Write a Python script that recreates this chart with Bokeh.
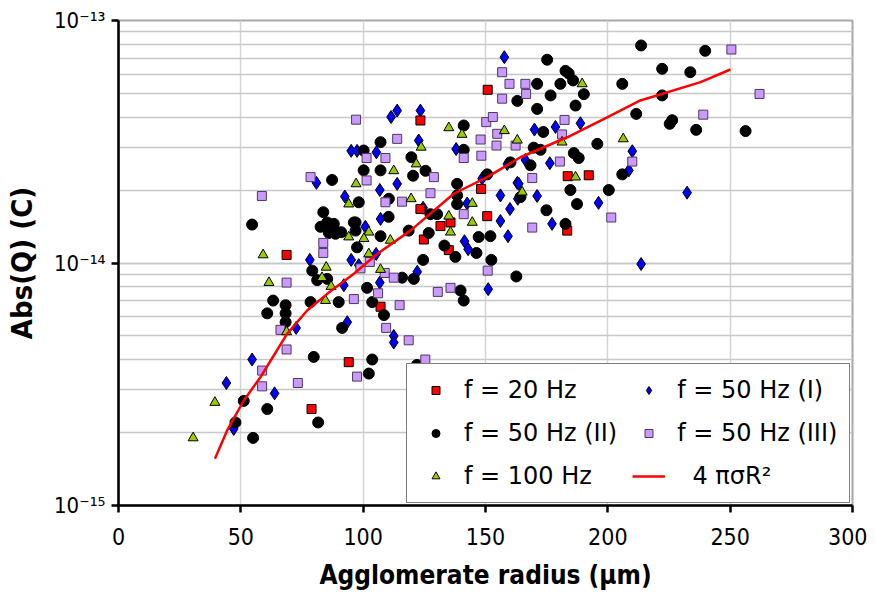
from bokeh.plotting import figure
from bokeh.models import (ColumnDataSource, Legend, LegendItem, LogTicker,
                          FixedTicker, CustomJSTickFormatter)
from bokeh.embed import file_html
from bokeh.resources import INLINE

# Agglomerate radius (um) and |Q| in fC (1e-15 C)
red_r = [68.7, 123.4, 150.9, 148.2, 123.4, 150.7, 131.6, 135.7, 183.6, 192.2,
         183.4, 135.0, 124.8, 107.1, 94.1, 78.9]
red_q = [10.8, 38.7, 51.8, 20.2, 16.7, 15.6, 14.2, 14.7, 22.8, 23.0,
         13.6, 11.3, 12.5, 6.6, 3.9, 2.5]

blue_r = [157.7, 95.1, 97.5, 80.9, 92.5, 78.2, 95.1, 111.4, 113.9, 123.4,
          122.7, 105.4, 113.9, 148.6, 106.8, 124.5, 142.5, 100.9, 160.0, 156.1,
          163.0, 156.1, 170.0, 178.6, 188.8, 210.0, 208.6, 176.3, 166.3, 163.6,
          171.1, 232.4, 196.2, 177.2, 213.6, 159.2, 151.1, 141.4, 142.9, 122.1,
          106.8, 112.5, 112.5, 93.5, 72.6, 54.6, 44.1, 63.8, 92.1, 138.0,
          158.9, 163.2, 105.3, 98.2, 107.1, 47.1]
blue_q = [70.6, 29.0, 29.0, 21.4, 18.8, 10.3, 10.3, 40.0, 42.5, 42.5,
          32.0, 28.6, 21.2, 22.3, 20.0, 16.9, 17.6, 14.1, 16.7, 19.0,
          21.4, 14.9, 35.5, 36.4, 37.7, 28.9, 24.1, 25.8, 26.6, 21.2,
          18.9, 19.5, 17.7, 14.5, 9.9, 12.9, 7.8, 12.3, 11.4, 9.2,
          8.3, 5.0, 4.7, 5.7, 5.4, 4.0, 3.2, 2.9, 8.1, 29.5,
          25.6, 18.4, 10.9, 9.8, 15.2, 2.07]

black_r = [213.6, 239.8, 175.2, 182.7, 184.0, 222.2, 233.7, 171.1, 180.6, 185.8,
           205.9, 163.0, 176.6, 190.2, 171.1, 186.8, 222.2, 211.6, 226.3, 225.3,
           236.1, 256.3, 173.6, 195.7, 169.7, 172.5, 205.9, 186.1, 188.1, 168.4,
           164.3, 184.7, 200.4, 187.4, 174.9, 182.7, 162.6, 160.2,
           87.3, 83.7, 54.6, 88.0, 86.0, 91.0, 96.2, 141.1, 107.1, 119.7,
           141.1, 100.2, 100.2, 107.1, 120.4, 125.5, 138.4, 150.7, 138.4, 138.4,
           98.2, 110.5, 130.2, 110.4, 96.9, 127.5, 152.0, 152.4, 147.2, 146.3,
           133.2, 126.8, 118.6, 124.5, 120.7, 115.9, 141.1, 139.8, 137.7, 107.1,
           82.6, 85.3, 88.7, 96.9, 97.5,
           103.7, 101.6, 108.5, 91.4, 90.0, 78.5, 81.2, 85.3, 79.2, 63.2,
           60.8, 68.3, 68.3, 68.3, 79.8, 51.2, 47.8, 55.0, 60.8, 81.6,
           102.3, 103.7, 122.0]
black_q = [78.9, 75.0, 68.9, 62.0, 60.5, 63.2, 61.2, 54.8, 54.8, 56.6,
           54.8, 46.6, 49.1, 49.7, 43.2, 44.6, 49.1, 41.2, 38.8, 37.5,
           35.4, 35.0, 34.7, 31.0, 29.9, 29.3, 23.2, 28.4, 27.1, 25.3,
           18.7, 20.0, 20.0, 17.5, 16.5, 14.5, 8.8, 26.0,
           22.0, 16.2, 14.4, 14.5, 13.3, 13.4, 14.7, 36.9, 31.5, 27.3,
           29.3, 29.1, 24.1, 24.1, 22.9, 24.0, 21.2, 23.2, 19.0, 17.5,
           17.8, 18.4, 15.9, 15.5, 14.7, 15.9, 12.9, 10.3, 12.8, 11.0,
           11.8, 13.3, 13.6, 10.3, 8.6, 8.7, 7.0, 7.7, 10.6, 12.9,
           14.1, 14.7, 13.2, 13.6, 11.6,
           6.9, 7.9, 6.1, 5.4, 6.9, 6.9, 8.5, 8.6, 9.3, 7.0,
           6.2, 6.7, 6.2, 5.7, 4.1, 2.7, 2.2, 1.9, 2.5, 2.2,
           3.5, 4.0, 3.8]

lav_r = [97.1, 78.5, 58.6, 83.7, 83.7, 156.8, 159.8, 166.3, 156.8, 166.6,
         150.3, 153.0, 154.8, 148.0, 154.5, 162.3, 113.9, 101.4, 109.1, 141.1,
         148.3, 128.9, 101.4, 127.5, 109.1, 115.9, 141.1, 182.3, 181.3, 180.4,
         169.1, 210.0, 201.4, 169.1, 250.5, 262.0, 239.0, 150.9, 135.7, 130.5,
         112.5, 108.8, 106.1, 114.9, 109.4, 118.6, 125.4, 96.2, 98.9, 102.7,
         68.7, 66.2, 68.7, 58.7, 58.7, 73.3, 97.5]
lav_q = [39.0, 22.6, 18.9, 12.1, 11.0, 61.2, 54.8, 54.8, 47.6, 49.8,
         38.1, 40.0, 34.1, 32.3, 30.5, 30.5, 32.5, 27.1, 27.1, 27.1,
         27.7, 22.6, 21.9, 19.4, 17.8, 17.9, 15.9, 38.9, 33.9, 26.2,
         22.4, 26.2, 15.4, 14.0, 75.9, 49.8, 40.9, 9.3, 7.9, 7.6,
         8.7, 9.1, 7.5, 6.7, 5.4, 4.8, 4.0, 7.1, 9.5, 10.1,
         8.3, 5.3, 4.4, 3.6, 3.1, 3.2, 3.4]

green_r = [97.1, 94.1, 94.1, 59.1, 135.0, 140.4, 157.7, 163.0, 123.7, 121.7,
           112.5, 119.6, 144.6, 135.0, 144.6, 165.0, 189.5, 181.3, 206.3, 186.8,
           135.7, 107.1, 102.3, 111.1, 102.3, 100.3, 61.5, 68.7, 84.6, 83.2,
           86.9, 84.9, 39.4, 30.5]
green_q = [21.2, 17.5, 12.8, 10.8, 36.1, 33.9, 35.1, 32.1, 30.0, 25.6,
           24.0, 18.4, 17.6, 15.6, 14.7, 19.6, 54.8, 31.5, 32.5, 22.6,
           13.4, 9.4, 10.9, 12.4, 13.4, 12.6, 8.3, 5.2, 7.0, 8.7,
           8.0, 9.6, 2.66, 1.9]

# model curve 4*pi*sigma*R^2
fit_r = [39.4, 44.4, 51.2, 58.0, 68.9, 77.1, 85.3, 96.2, 105.7, 119.3,
         137.0, 150.7, 164.3, 183.4, 199.7, 213.3, 237.9, 250.1]
fit_q = [1.56, 2.04, 2.71, 3.38, 5.10, 6.37, 7.46, 9.03, 10.9, 13.6,
         19.3, 22.6, 27.3, 33.0, 39.9, 46.8, 55.7, 62.8]

x_ticks = [0, 50, 100, 150, 200, 250, 300]

FC = 1e-15


def src(r, q):
    return ColumnDataSource(dict(x=r, y=[v * FC for v in q]))


p = figure(width=867, height=593, output_backend="svg", toolbar_location=None,
           x_range=(0, 300), y_range=(1e-15, 1e-13), y_axis_type="log",
           min_border_left=118, min_border_right=15, min_border_top=20,
           min_border_bottom=88)
p.frame_width = 734
p.frame_height = 485

p.background_fill_color = "white"
p.border_fill_color = "white"
p.outline_line_color = "#a8a8a8"
p.outline_line_width = 2

# grids
p.xaxis.ticker = FixedTicker(ticks=x_ticks)
p.xgrid.ticker = FixedTicker(ticks=x_ticks)
p.xgrid.grid_line_color = "#d4d4d4"
p.xgrid.grid_line_width = 1.5
p.yaxis.ticker = LogTicker(num_minor_ticks=10)
p.ygrid.grid_line_color = "#c8c8c8"
p.ygrid.grid_line_width = 1.5
p.ygrid.minor_grid_line_color = "#c8c8c8"
p.ygrid.minor_grid_line_width = 1.5

# axes
for ax in (p.xaxis[0], p.yaxis[0]):
    ax.axis_line_color = "black"
    ax.axis_line_width = 2.5
    ax.major_tick_line_color = "black"
    ax.major_tick_line_width = 2.5
    ax.major_tick_out = 7
    ax.major_tick_in = 0
    ax.minor_tick_line_color = None
    ax.major_label_text_font = "DejaVu Sans Condensed"
    ax.major_label_text_color = "black"
    ax.axis_label_text_font = "DejaVu Sans Condensed"
    ax.axis_label_text_font_style = "bold"
    ax.axis_label_text_color = "black"

p.xaxis.major_label_text_font_size = "23px"
p.yaxis.major_label_text_font_size = "22px"
p.xaxis.axis_label_text_font_size = "26px"
p.yaxis.axis_label_text_font_size = "29px"
p.xaxis.major_label_standoff = 15
p.yaxis.major_label_standoff = 6
p.xaxis.axis_label = "Agglomerate radius (\u03bcm)"
p.yaxis.axis_label = "Abs(Q) (C)"
p.xaxis.axis_label_standoff = 12
p.yaxis.axis_label_standoff = 12

p.yaxis.formatter = CustomJSTickFormatter(code="""
const sup = {'-':'\u207b','0':'\u2070','1':'\u00b9','2':'\u00b2','3':'\u00b3',
             '4':'\u2074','5':'\u2075','6':'\u2076','7':'\u2077','8':'\u2078','9':'\u2079'};
const e = Math.round(Math.log10(tick));
return '10' + String(e).split('').map(c => sup[c]).join('');
""")

r_blue = p.scatter("x", "y", source=src(blue_r, blue_q), marker="diamond", size=13,
                   fill_color="#0000ff", line_color="black", line_width=1)
r_red = p.scatter("x", "y", source=src(red_r, red_q), marker="square", size=9,
                  fill_color="#ff0000", line_color="black", line_width=1)
r_black = p.scatter("x", "y", source=src(black_r, black_q), marker="circle", size=11,
                    fill_color="black", line_color="black", line_width=1)
r_lav = p.scatter("x", "y", source=src(lav_r, lav_q), marker="square", size=9,
                  fill_color="#cc99ff", line_color="#4a3a60", line_width=1)
r_green = p.scatter("x", "y", source=src(green_r, green_q), marker="triangle", size=10,
                    fill_color="#99cc00", line_color="black", line_width=1)
r_fit = p.line("x", "y", source=src(fit_r, fit_q), line_color="#ff0000", line_width=2.5)

# column-major fill: column 1 then column 2
legend = Legend(items=[
    LegendItem(label="f = 20 Hz", renderers=[r_red]),
    LegendItem(label="f = 50 Hz (II)", renderers=[r_black]),
    LegendItem(label="f = 100 Hz", renderers=[r_green]),
    LegendItem(label="f = 50 Hz (I)", renderers=[r_blue]),
    LegendItem(label="f = 50 Hz (III)", renderers=[r_lav]),
    LegendItem(label="\u00a0\u00a04 \u03c0\u03c3R\u00b2", renderers=[r_fit]),
], location=(288, 2), ncols=2)
legend.label_text_font = "DejaVu Sans"
legend.label_text_font_size = "24px"
legend.label_text_color = "black"
legend.glyph_width = 33
legend.glyph_height = 20
legend.label_standoff = 12
legend.spacing = 15
legend.padding = 12
legend.margin = 0
legend.border_line_color = "black"
legend.border_line_width = 1.5
legend.background_fill_color = "white"
legend.background_fill_alpha = 1
p.add_layout(legend, "center")

open("out.html", "w").write(file_html(p, INLINE))
